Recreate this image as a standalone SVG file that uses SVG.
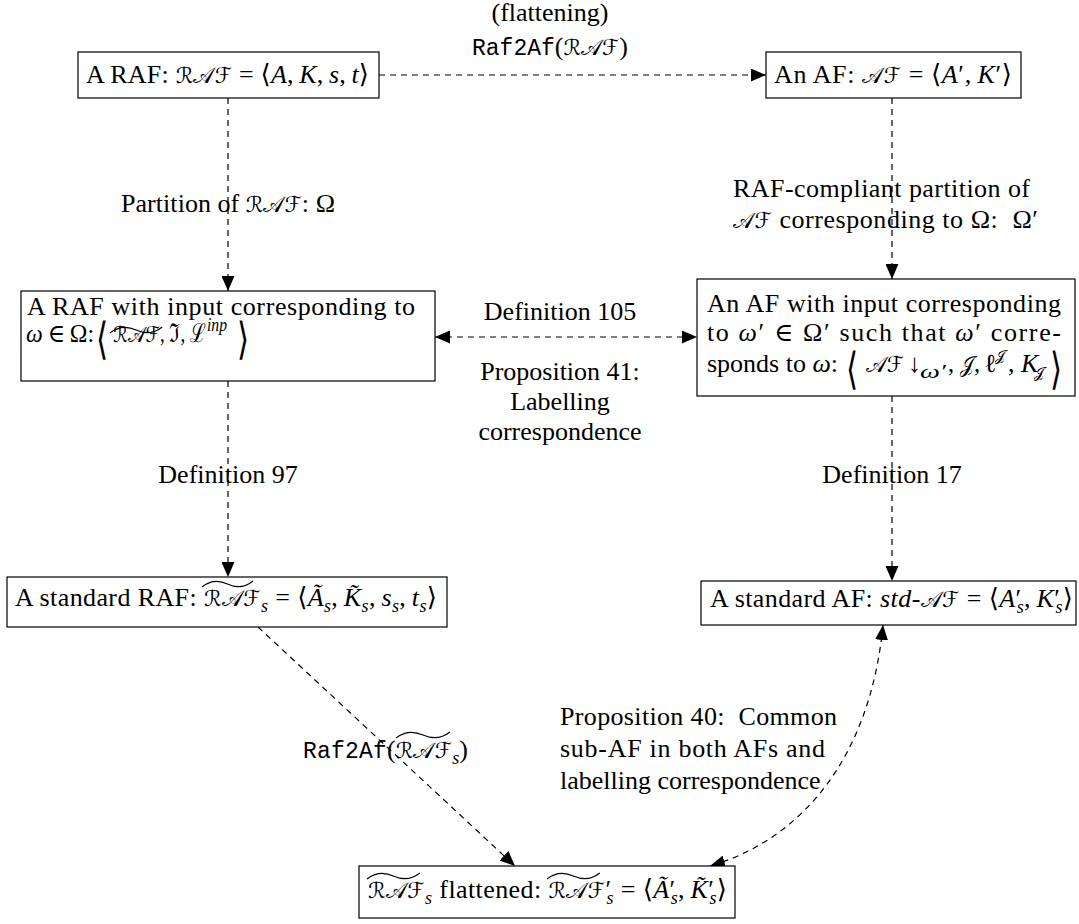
<svg xmlns="http://www.w3.org/2000/svg" width="1079" height="924" viewBox="0 0 1079 924">
<defs>
<style>
.box{fill:#fff;stroke:#000;stroke-width:1.2}
.t{font-family:"Liberation Serif","DejaVu Serif",serif;font-size:26px;fill:#000}
.i{font-style:italic}
.cal{font-family:"DejaVu Serif","DejaVu Sans",serif;font-style:normal;font-size:22px}
.mono{font-family:"Liberation Mono","DejaVu Sans Mono",monospace;font-size:23px}
.sub{font-size:18px}
.big{font-family:"DejaVu Sans",sans-serif;font-weight:200;font-size:26px;fill:#000}
.ed{fill:none;stroke:#000;stroke-width:1.2;stroke-dasharray:6 5}
</style>
<marker id="ah" viewBox="0 0 15 13" refX="15" refY="6.5" markerWidth="15" markerHeight="13" markerUnits="userSpaceOnUse" orient="auto-start-reverse"><path d="M0,0 L15,6.5 L0,13 z" fill="#000" stroke="none"/></marker>
<path id="wt" d="M0,6 C10,-1 20,-1 30,3 C40,7 50,7 60,0" fill="none" stroke="#000" stroke-width="1.2" vector-effect="non-scaling-stroke"/>
</defs>
<rect width="1079" height="924" fill="#fff"/>

<g id="connectors">
<path class="ed" d="M379,75 H766" marker-end="url(#ah)"/>
<path class="ed" d="M228,98 V291" marker-end="url(#ah)"/>
<path class="ed" d="M892,98 V279" marker-end="url(#ah)"/>
<path class="ed" d="M435,337 H697" marker-start="url(#ah)" marker-end="url(#ah)"/>
<path class="ed" d="M228,381 V577" marker-end="url(#ah)"/>
<path class="ed" d="M892,396 V581" marker-end="url(#ah)"/>
<path class="ed" d="M258,627 L515,866" marker-end="url(#ah)"/>
<path class="ed" d="M883,625 C870,760 800,840 710,866" marker-start="url(#ah)" marker-end="url(#ah)"/>
</g>

<g id="edge-labels">
<text class="t" x="550" y="21" text-anchor="middle">(flattening)</text>
<text class="t" x="550" y="55" text-anchor="middle"><tspan class="mono">Raf2Af</tspan>(<tspan class="cal">ℛ𝒜ℱ</tspan>)</text>
<text class="t" x="228" y="212" text-anchor="middle" textLength="214" lengthAdjust="spacing">Partition of <tspan class="cal">ℛ𝒜ℱ</tspan>: Ω</text>
<text class="t" x="733" y="197" textLength="297" lengthAdjust="spacing">RAF-compliant partition of</text>
<text class="t" x="733" y="228" textLength="305" lengthAdjust="spacing"><tspan class="cal">𝒜ℱ</tspan> corresponding to Ω:&#160; Ω′</text>
<text class="t" x="560" y="320" text-anchor="middle">Definition 105</text>
<text class="t" x="560" y="380" text-anchor="middle">Proposition 41:</text>
<text class="t" x="560" y="410" text-anchor="middle">Labelling</text>
<text class="t" x="560" y="440" text-anchor="middle">correspondence</text>
<text class="t" x="228" y="483" text-anchor="middle">Definition 97</text>
<text class="t" x="892" y="483" text-anchor="middle">Definition 17</text>
<text class="t" x="303" y="758" textLength="165" lengthAdjust="spacing"><tspan class="mono">Raf2Af</tspan>(<tspan class="cal">ℛ𝒜ℱ</tspan><tspan class="i sub" dy="6">s</tspan><tspan dy="-6">)</tspan></text>
<use href="#wt" transform="translate(396,732) scale(0.9,1)"/>
<text class="t" x="560" y="725" textLength="277" lengthAdjust="spacing">Proposition 40:&#160; Common</text>
<text class="t" x="560" y="757" textLength="265" lengthAdjust="spacing">sub-AF in both AFs and</text>
<text class="t" x="560" y="789">labelling correspondence</text>
</g>

<g id="n-raf">
<rect class="box" x="78" y="52" width="301" height="46"/>
<text class="t" x="86" y="83" textLength="283" lengthAdjust="spacing">A RAF: <tspan class="cal">ℛ𝒜ℱ</tspan> = ⟨<tspan class="i">A</tspan>,&#8201;<tspan class="i">K</tspan>,&#8201;<tspan class="i">s</tspan>,&#8201;<tspan class="i">t</tspan>⟩</text>
</g>

<g id="n-af">
<rect class="box" x="766" y="52" width="255" height="46"/>
<text class="t" x="774" y="83" textLength="238" lengthAdjust="spacing">An AF: <tspan class="cal">𝒜ℱ</tspan> = ⟨<tspan class="i">A</tspan>′,&#8201;<tspan class="i">K</tspan>′⟩</text>
</g>

<g id="n-raf-input">
<rect class="box" x="21" y="291" width="414" height="90"/>
<text class="t" x="27" y="315" textLength="388" lengthAdjust="spacing">A RAF with input corresponding to</text>
<text class="t" x="26" y="342" textLength="68" lengthAdjust="spacingAndGlyphs"><tspan class="i">ω</tspan>&#8201;∈&#8201;Ω:</text>
<text class="big" transform="translate(96,354) scale(1.2,1.7)">⟨</text>
<text class="t" x="113" y="342" textLength="47" lengthAdjust="spacingAndGlyphs"><tspan class="cal">ℛ𝒜ℱ</tspan></text>
<use href="#wt" transform="translate(110,327) scale(0.87,1)"/>
<text class="t" x="160" y="342" textLength="46" lengthAdjust="spacingAndGlyphs">, ℑ, ℒ</text>
<text class="t i sub" x="207" y="331" textLength="20" lengthAdjust="spacingAndGlyphs">inp</text>
<text class="big" transform="translate(237,354) scale(1.2,1.7)">⟩</text>
</g>

<g id="n-af-input">
<rect class="box" x="697" y="279" width="378" height="117"/>
<text class="t" x="707" y="312" textLength="354" lengthAdjust="spacing">An AF with input corresponding</text>
<text class="t" x="707" y="341" textLength="354" lengthAdjust="spacing">to <tspan class="i">ω</tspan>′ ∈ Ω′ such that <tspan class="i">ω</tspan>′ corre-</text>
<text class="t" x="707" y="372">sponds to <tspan class="i">ω</tspan>:</text>
<text class="big" transform="translate(846,384) scale(1.2,1.7)">⟨</text>
<text class="t" x="866" y="372" textLength="38" lengthAdjust="spacingAndGlyphs"><tspan class="cal">𝒜ℱ</tspan></text>
<text class="t" x="908" y="372">↓</text>
<text class="t i sub" x="920" y="378" textLength="26" lengthAdjust="spacingAndGlyphs">ω′</text>
<text class="t" x="948" y="372" textLength="32" lengthAdjust="spacingAndGlyphs">, <tspan class="cal">𝒥</tspan>,</text>
<text class="t" x="984" y="372">ℓ</text>
<text class="t cal sub" x="995" y="361" style="font-size:15px">𝒥</text>
<text class="t" x="1008" y="372">, <tspan class="i">K</tspan></text>
<text class="t cal sub" x="1034" y="378" style="font-size:15px">𝒥</text>
<text class="big" transform="translate(1050,384) scale(1.2,1.7)">⟩</text>
</g>

<g id="n-std-raf">
<rect class="box" x="7" y="577" width="440" height="50"/>
<text class="t" x="15" y="606" textLength="422" lengthAdjust="spacing">A standard RAF: <tspan class="cal">ℛ𝒜ℱ</tspan><tspan class="i sub" dy="6">s</tspan><tspan dy="-6"> = ⟨</tspan><tspan class="i">Ã</tspan><tspan class="i sub" dy="6">s</tspan><tspan dy="-6">,&#8201;</tspan><tspan class="i">K̃</tspan><tspan class="i sub" dy="6">s</tspan><tspan dy="-6">,&#8201;</tspan><tspan class="i">s</tspan><tspan class="i sub" dy="6">s</tspan><tspan dy="-6">,&#8201;</tspan><tspan class="i">t</tspan><tspan class="i sub" dy="6">s</tspan><tspan dy="-6">⟩</tspan></text>
<use href="#wt" transform="translate(202,581) scale(0.85,1)"/>
</g>

<g id="n-std-af">
<rect class="box" x="701" y="581" width="375" height="44"/>
<text class="t" x="710" y="607" textLength="363" lengthAdjust="spacing">A standard AF: <tspan class="i">std</tspan>-<tspan class="cal">𝒜ℱ</tspan> = ⟨<tspan class="i">A</tspan>′<tspan class="i sub" dx="-5" dy="6">s</tspan><tspan dy="-6">,&#8201;</tspan><tspan class="i">K</tspan>′<tspan class="i sub" dx="-5" dy="6">s</tspan><tspan dy="-6">⟩</tspan></text>
</g>

<g id="n-flat">
<rect class="box" x="359" y="866" width="376" height="52"/>
<text class="t" x="368" y="898" textLength="359" lengthAdjust="spacing"><tspan class="cal">ℛ𝒜ℱ</tspan><tspan class="i sub" dy="6">s</tspan><tspan dy="-6"> flattened: </tspan><tspan class="cal">ℛ𝒜ℱ</tspan>′<tspan class="i sub" dx="-5" dy="6">s</tspan><tspan dy="-6"> = ⟨</tspan><tspan class="i">Ã</tspan>′<tspan class="i sub" dx="-5" dy="6">s</tspan><tspan dy="-6">,&#8201;</tspan><tspan class="i">K̃</tspan>′<tspan class="i sub" dx="-5" dy="6">s</tspan><tspan dy="-6">⟩</tspan></text>
<use href="#wt" transform="translate(367,873) scale(0.88,1)"/>
<use href="#wt" transform="translate(547,873) scale(0.88,1)"/>
</g>
</svg>
